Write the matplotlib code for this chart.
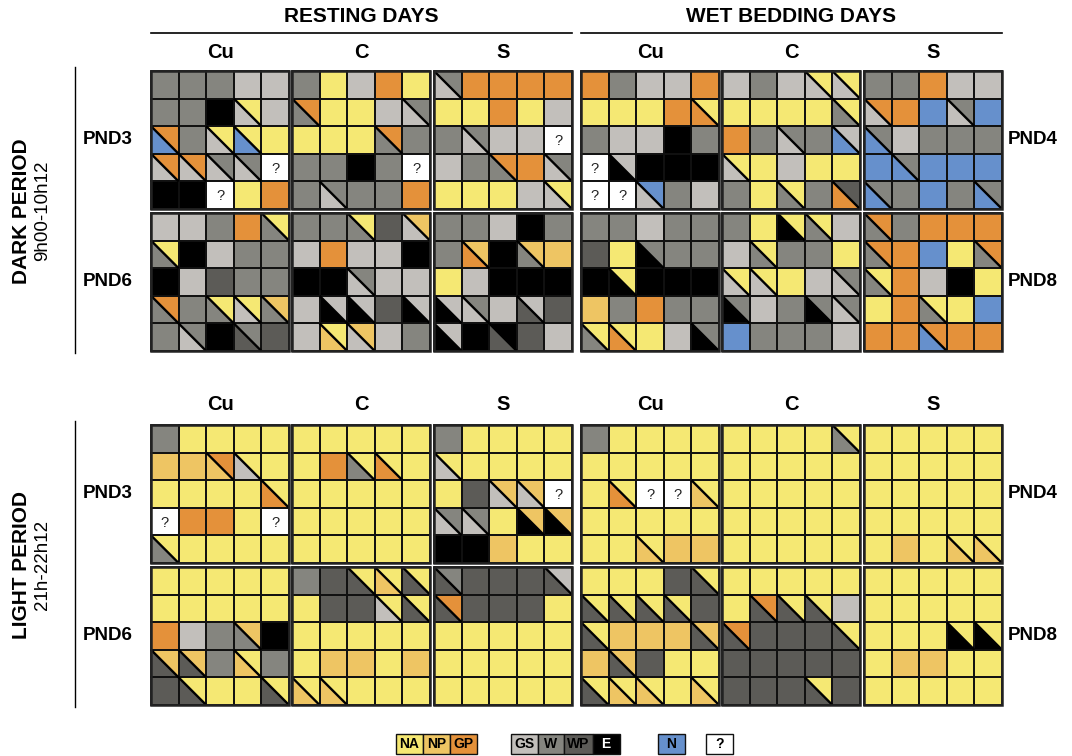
import matplotlib
matplotlib.use("Agg")
import matplotlib.pyplot as plt
from matplotlib.patches import Rectangle, Polygon

plt.rcParams['font.family'] = ['Liberation Sans', 'DejaVu Sans']

# ---------------- colours of the behaviour codes ----------------
CODE_COLORS = {
    "A": "#F5E873",  # NA
    "P": "#EEC563",  # NP
    "G": "#E4913A",  # GP
    "S": "#C2BFBB",  # GS
    "W": "#85857F",  # W
    "D": "#5C5B57",  # WP
    "E": "#000000",  # E
    "N": "#6690CC",  # N
    "Q": "#FFFFFF",  # ?
}

# ---------------- labels ----------------
condition_labels = ["RESTING DAYS", "WET BEDDING DAYS"]
group_labels = ["Cu", "C", "S"]
period_labels = ["DARK PERIOD", "LIGHT PERIOD"]
period_times = ["9h00-10h12", "21h-22h12"]
resting_pnd = ["PND3", "PND6"]
wet_pnd = ["PND4", "PND8"]
legend_groups = [["NA", "NP", "GP"], ["GS", "W", "WP", "E"], ["N"], ["?"]]
legend_codes = [["A", "P", "G"], ["S", "W", "D", "E"], ["N"], ["Q"]]

# ---------------- data: "X/Y" = upper-right X, lower-left Y ----------------
dark_pnd3_rest_cu = ["W W W S S", "W W E A/S S", "G/N W A/S A/N A", "G/S G/S W/S W/S Q", "E E Q A G"]
dark_pnd3_rest_c = ["W A S G A", "G/W A A S W/S", "A A A G/W W", "W W E W Q", "W W/S W W G"]
dark_pnd3_rest_s = ["W/S G G G G", "A A G A S", "W W/S S S Q", "S W G/W G W/S", "A A A S A/S"]
dark_pnd3_wet_cu = ["G W S S G", "A A A G A/G", "W S S E W", "Q S/E E E E", "Q Q N/S W S"]
dark_pnd3_wet_c = ["S W S A/S A/S", "A A A A A/W", "G W W/S W S/N", "A/S A S A A", "W A A/W W D/G"]
dark_pnd3_wet_s = ["W W G S S", "G/S G N W/S N", "W/N S W W W", "N W/N N N N", "W/N W N W W/N"]

dark_pnd6_rest_cu = ["S S W G A/W", "A/W E S W W", "E S D W W", "G/W W A/W A/S P/W", "W W/S E W/D D"]
dark_pnd6_rest_c = ["W W A/W D P/S", "S G S S E", "E E W/S S S", "S S/E S/E D S/E", "S A/P P/S S W"]
dark_pnd6_rest_s = ["W W S E W", "W P/G E P/W P", "A S E E E", "S/E W/S S S/D D", "S/E E E/D D S"]
dark_pnd6_wet_cu = ["W W S W W", "D A W/E W W", "E A/E E E E", "P W G W W", "A/W A/G A S W/E"]
dark_pnd6_wet_c = ["W A A/E A/W S", "S A/W W W A", "A/S A/S A S W/S", "W/E S W W/E W/S", "N W W W S"]
dark_pnd6_wet_s = ["G/W W G G G", "G/W G N A G/W", "A/W G S E A", "A G A/W A N", "G G G/N G G"]

light_pnd3_rest_cu = ["W A A A A", "P P G/P A/S A", "A A A A A/G", "Q G G A Q", "A/W A A A A"]
light_pnd3_rest_c = ["A A A A A", "A G A/W A/G A", "A A A A A", "A A A A A", "A A A A A"]
light_pnd3_rest_s = ["W A A A A", "A/S A A A A", "A D P/S P/S Q", "W/S W/S A P/E P/E", "E E P A A"]
light_pnd3_wet_cu = ["W A A A A", "A A A A A", "A A/G Q Q A/P", "A A A A A", "A A A/P P P"]
light_pnd3_wet_c = ["A A A A A/W", "A A A A A", "A A A A A", "A A A A A", "A A A A A"]
light_pnd3_wet_s = ["A A A A A", "A A A A A", "A A A A A", "A A A A A", "A P A A/P A/P"]

light_pnd6_rest_cu = ["A A A A A", "A A A A A", "G S W P/W E", "P/D P/D W A/P W", "D A/D A A A/D"]
light_pnd6_rest_c = ["W D A/D A/P A/D", "A D D A/S A/D", "A A A A A", "A P P A P", "A/P A/P A A A"]
light_pnd6_rest_s = ["W/D D D D S/D", "G/D D D D A", "A A A A A", "A A A A A", "A A A A A"]
light_pnd6_wet_cu = ["A A A D A/D", "A/D A/D A/D A/D D", "A/D P P P P/D", "P P/D D A A", "A/D A/P A/P A A/P"]
light_pnd6_wet_c = ["A A A A A", "A G/D A/D A/D S", "G/D D D D A/D", "D D D D D", "D D D A/D D"]
light_pnd6_wet_s = ["A A A A A", "A A A A A", "A A A A/E A/E", "A P P A A", "A A A A A"]

block_rows = [
    [dark_pnd3_rest_cu, dark_pnd3_rest_c, dark_pnd3_rest_s, dark_pnd3_wet_cu, dark_pnd3_wet_c, dark_pnd3_wet_s],
    [dark_pnd6_rest_cu, dark_pnd6_rest_c, dark_pnd6_rest_s, dark_pnd6_wet_cu, dark_pnd6_wet_c, dark_pnd6_wet_s],
    [light_pnd3_rest_cu, light_pnd3_rest_c, light_pnd3_rest_s, light_pnd3_wet_cu, light_pnd3_wet_c, light_pnd3_wet_s],
    [light_pnd6_rest_cu, light_pnd6_rest_c, light_pnd6_rest_s, light_pnd6_wet_cu, light_pnd6_wet_c, light_pnd6_wet_s],
]

# ---------------- layout (pixel space) ----------------
W_PX, H_PX = 1072, 756
col_x = [151, 292, 434, 581, 722, 864]
row_y = [71, 213, 425, 567]
BW, BH = 138, 138
LW = 1.3

fig = plt.figure(figsize=(W_PX / 100, H_PX / 100), dpi=100)
ax = fig.add_axes([0, 0, 1, 1])
ax.set_xlim(0, W_PX)
ax.set_ylim(H_PX, 0)
ax.axis("off")


def draw_cell(x0, y0, w, h, code):
    x1, y1 = x0 + w, y0 + h
    if "/" in code:
        up, lo = code.split("/")
        ax.add_patch(Polygon([(x0, y0), (x1, y0), (x1, y1)], closed=True,
                             facecolor=CODE_COLORS[up], edgecolor="none", zorder=1))
        ax.add_patch(Polygon([(x0, y0), (x0, y1), (x1, y1)], closed=True,
                             facecolor=CODE_COLORS[lo], edgecolor="none", zorder=1))
        ax.plot([x0, x1], [y0, y1], color="black", lw=LW * 1.3, zorder=3,
                solid_capstyle="butt")
    else:
        ax.add_patch(Rectangle((x0, y0), w, h, facecolor=CODE_COLORS[code],
                               edgecolor="none", zorder=1))
        if code == "Q":
            ax.text(x0 + w / 2, y0 + h / 2 + 1, "?", ha="center", va="center",
                    fontsize=10.5, color="#222222", zorder=4)
    ax.add_patch(Rectangle((x0, y0), w, h, facecolor="none", edgecolor="#111111",
                           lw=LW, zorder=2))


for r, blocks in enumerate(block_rows):
    for c, block in enumerate(blocks):
        bx, by = col_x[c], row_y[r]
        cw, ch = BW / 5, BH / 5
        for i, line in enumerate(block):
            for j, code in enumerate(line.split()):
                draw_cell(bx + j * cw, by + i * ch, cw, ch, code)
        ax.add_patch(Rectangle((bx, by), BW, BH, facecolor="none",
                               edgecolor="#222222", lw=1.8, zorder=5))

# headers
for k, lab in enumerate(condition_labels):
    xl, xr = col_x[3 * k], col_x[3 * k + 2] + BW
    ax.text((xl + xr) / 2, 17, lab, ha="center", va="center", fontsize=15,
            fontweight="bold")
    ax.plot([xl, xr], [33, 33], color="black", lw=1.2)

for yy in (53, 404):
    for c in range(6):
        ax.text(col_x[c] + BW / 2, yy, group_labels[c % 3], ha="center",
                va="center", fontsize=14.5, fontweight="bold")

# period labels on the left
for p in range(2):
    top, bot = row_y[2 * p], row_y[2 * p + 1] + BH
    yc = (top + bot) / 2
    ax.text(22, yc, period_labels[p], rotation=90, ha="center", va="center",
            fontsize=15, fontweight="bold")
    ax.text(43, yc, period_times[p], rotation=90, ha="center", va="center",
            fontsize=13.5)
    ax.plot([75, 75], [top - 4, bot + 2], color="black", lw=1.0)
    for q in range(2):
        ycen = row_y[2 * p + q] + BH / 2
        ax.text(108, ycen, resting_pnd[q], ha="center", va="center",
                fontsize=13.5, fontweight="bold")
        ax.text(1033, ycen, wet_pnd[q], ha="center", va="center",
                fontsize=13.5, fontweight="bold")

# legend
leg_x0 = [396, 511, 658, 706]
leg_w = [27, 26.5, 27, 27]
leg_y, leg_h = 734, 20
for g, labs in enumerate(legend_groups):
    x = leg_x0[g]
    for lab, code in zip(labs, legend_codes[g]):
        w = leg_w[g] if lab != "WP" else 29
        ax.add_patch(Rectangle((x, leg_y), w, leg_h, facecolor=CODE_COLORS[code],
                               edgecolor="#111111", lw=1.0))
        tc = "white" if code == "E" else "black"
        ax.text(x + w / 2, leg_y + leg_h / 2 + 0.5, lab, ha="center", va="center",
                fontsize=10, fontweight="bold", color=tc)
        x += w

fig.savefig("out.png", dpi=100)
